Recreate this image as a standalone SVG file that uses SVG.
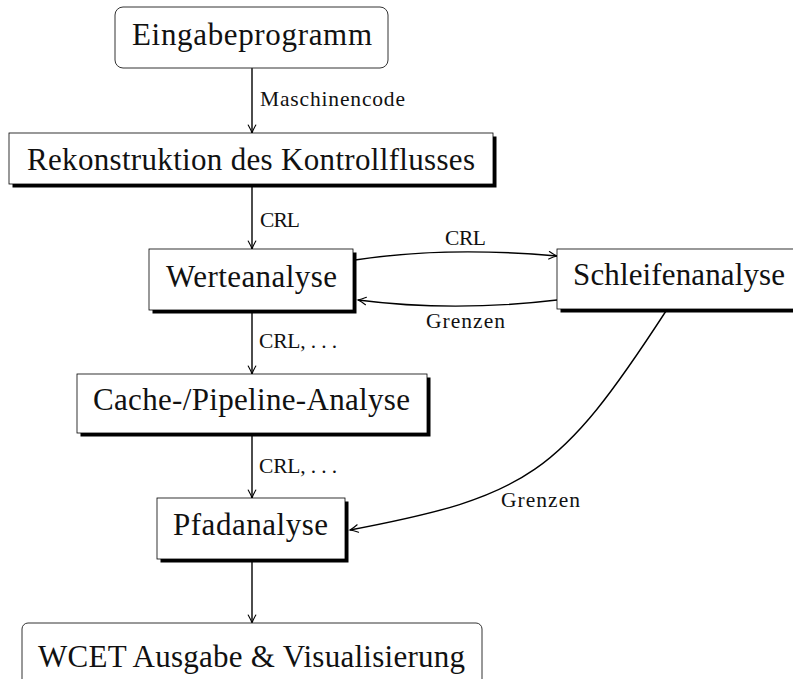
<svg xmlns="http://www.w3.org/2000/svg" width="793" height="679" viewBox="0 0 793 679">
  <defs>
    <marker id="arr" markerWidth="10" markerHeight="10" markerUnits="userSpaceOnUse" orient="auto" overflow="visible">
      <path d="M-8,-3.8 Q-3,-0.9 0,0 Q-3,0.9 -8,3.8" fill="none" stroke="#000" stroke-width="1.1" stroke-linecap="round"/>
    </marker>
    <style>
      .round { fill: #fff; stroke: #333; stroke-width: 1; }
      .box { fill: #fff; stroke: #000; stroke-width: 0.8; }
      .shadow { fill: #000; }
      .node { font-family: "Liberation Serif", "Times New Roman", serif; font-size: 31px; fill: #111; text-anchor: middle; }
      .lbl { font-family: "Liberation Serif", "Times New Roman", serif; font-size: 21.5px; fill: #111; }
      .edge { fill: none; stroke: #000; stroke-width: 1.4; marker-end: url(#arr); }
    </style>
  </defs>
  <rect width="793" height="679" fill="#fff"/>

  <!-- connectors -->
  <g id="connectors">
    <path class="edge" d="M252,68 L252,133"/>
    <path class="edge" d="M252,184 L252,249"/>
    <path class="edge" d="M252,310 L252,374"/>
    <path class="edge" d="M252,433 L252,498"/>
    <path class="edge" d="M252,559 L252,623"/>
    <path class="edge" d="M355,260 C420,250 490,250 557,256"/>
    <path class="edge" d="M557,300 C490,308 420,308 358,300"/>
    <path class="edge" d="M666,311 C559.6,474.5 528,496.3 350,530"/>
    <text class="lbl" x="260" y="106" textLength="145">Maschinencode</text>
    <text class="lbl" x="260" y="227" textLength="40">CRL</text>
    <text class="lbl" x="445" y="245" textLength="41">CRL</text>
    <text class="lbl" x="426" y="328" textLength="79">Grenzen</text>
    <text class="lbl" x="259" y="348" textLength="78">CRL, . . .</text>
    <text class="lbl" x="259" y="473" textLength="78">CRL, . . .</text>
    <text class="lbl" x="501" y="507" textLength="79">Grenzen</text>
  </g>

  <g id="eingabe">
    <rect class="round" x="115" y="7" width="273" height="61" rx="8"/>
    <text class="node" x="252" y="45" textLength="240">Eingabeprogramm</text>
  </g>

  <g id="rekonstruktion">
    <rect class="shadow" x="12.5" y="136.5" width="484" height="51"/>
    <rect class="box" x="9" y="133" width="484" height="51"/>
    <text class="node" x="251" y="170" textLength="448">Rekonstruktion des Kontrollflusses</text>
  </g>

  <g id="werteanalyse">
    <rect class="shadow" x="152.5" y="252.5" width="204" height="61"/>
    <rect class="box" x="149" y="249" width="204" height="61"/>
    <text class="node" x="251.5" y="287" textLength="171">Werteanalyse</text>
  </g>

  <g id="schleifenanalyse">
    <rect class="shadow" x="560.5" y="252.5" width="240" height="60"/>
    <rect class="box" x="557" y="249" width="240" height="60"/>
    <text class="node" x="679" y="285" textLength="212">Schleifenanalyse</text>
  </g>

  <g id="cache">
    <rect class="shadow" x="80.5" y="377.5" width="350" height="59"/>
    <rect class="box" x="77" y="374" width="350" height="59"/>
    <text class="node" x="251.5" y="410" textLength="317">Cache-/Pipeline-Analyse</text>
  </g>

  <g id="pfadanalyse">
    <rect class="shadow" x="160.5" y="501.5" width="188" height="61"/>
    <rect class="box" x="157" y="498" width="188" height="61"/>
    <text class="node" x="250.5" y="535" textLength="155">Pfadanalyse</text>
  </g>

  <g id="ausgabe">
    <rect class="round" x="22" y="623" width="460" height="70" rx="6"/>
    <text class="node" x="251.5" y="667" textLength="427">WCET Ausgabe &amp; Visualisierung</text>
  </g>
</svg>
